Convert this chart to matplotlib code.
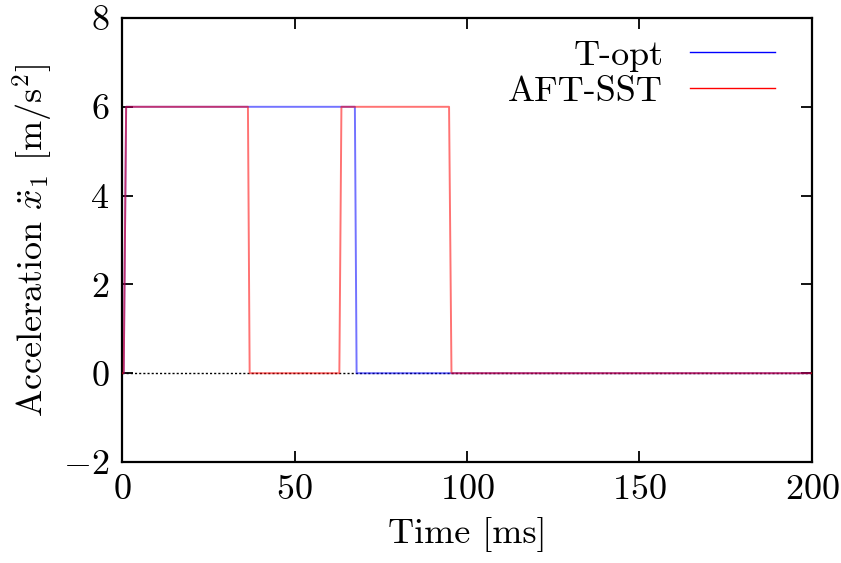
import matplotlib
matplotlib.use("Agg")
import matplotlib.pyplot as plt

plt.rcParams['font.family'] = ['cmr10', 'DejaVu Serif']
plt.rcParams['mathtext.fontset'] = 'cm'
plt.rcParams['axes.formatter.use_mathtext'] = True

# Data (time in ms, acceleration in m/s^2)
t_opt_time = [0, 0.5, 1.2, 67.5, 68.0, 200]
t_opt_acc = [0, 0, 6, 6, 0, 0]
aft_time = [0, 0.5, 1.2, 36.5, 37.0, 63.0, 63.6, 94.8, 95.5, 200]
aft_acc = [0, 0, 6, 6, 0, 0, 6, 6, 0, 0]

xticks = [0, 50, 100, 150, 200]
yticks = [-2, 0, 2, 4, 6, 8]

FS = 26

fig = plt.figure(figsize=(8.41, 5.63), dpi=100)
ax = fig.add_axes([122/841, 1-462/563, (812-122)/841, (462-18)/563])

ax.axhline(0, color='black', lw=1.0, ls=(0, (1.5, 1.5)), zorder=1)
ax.plot(t_opt_time, t_opt_acc, color='#0000ff', lw=1.4, alpha=0.55, label='T-opt', zorder=2)
ax.plot(aft_time, aft_acc, color='#ff0000', lw=1.4, alpha=0.55, label='AFT-SST', zorder=3)

ax.set_xlim(0, 200)
ax.set_ylim(-2, 8)
ax.set_xticks(xticks)
ax.set_yticks(yticks)
ax.tick_params(direction='in', top=True, right=True, length=8, width=1.3, labelsize=FS, pad=9)
for s in ax.spines.values():
    s.set_linewidth(1.6)

ax.set_xlabel('Time [ms]', fontsize=FS, labelpad=8)
ax.set_ylabel(r'Acceleration $\ddot{x}_1$ [m/s$^2$]', fontsize=FS, labelpad=6)

leg = ax.legend(loc='upper right', frameon=False, markerfirst=False, fontsize=FS,
                handlelength=2.35, handletextpad=0.75, borderaxespad=0.2, labelspacing=0.1,
                bbox_to_anchor=(0.978, 1.0))
for h in leg.get_lines():
    h.set_alpha(1.0)
    h.set_linewidth(1.0)

fig.savefig('out.png', dpi=100)
